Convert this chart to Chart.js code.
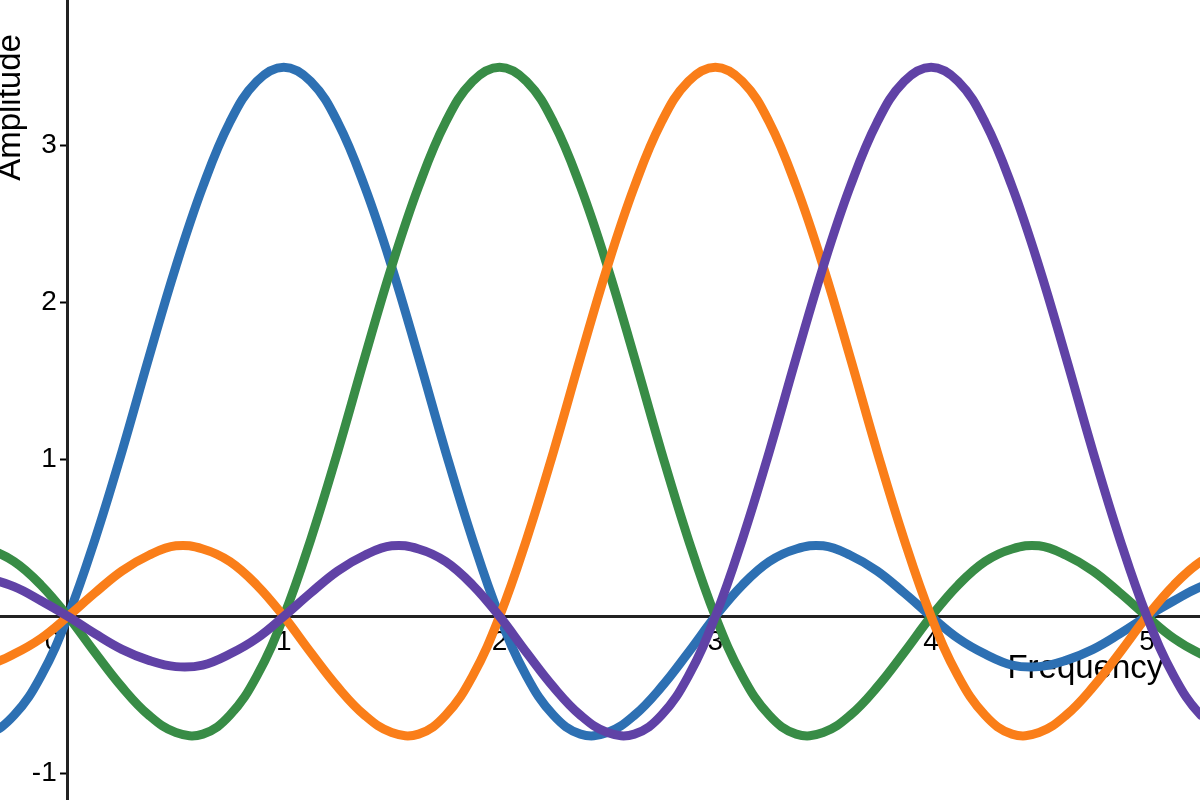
<!DOCTYPE html>
<html>
<head>
<meta charset="utf-8">
<script src="https://cdn.jsdelivr.net/npm/chart.js@4/dist/chart.umd.min.js"></script>
<style>
  html, body { margin: 0; padding: 0; background: #fff; }
  canvas { display: block; }
</style>
</head>
<body>
<canvas id="chart" width="1200" height="800"></canvas>
<script>
/* ---------- data ---------- */
const xValues = [-0.5,-0.375,-0.25,-0.125,0,0.125,0.25,0.375,0.5,0.625,0.75,0.875,1,1.125,1.25,1.375,1.5,1.625,1.75,1.875,2,2.125,2.25,2.375,2.5,2.625,2.75,2.875,3,3.125,3.25,3.375,3.5,3.625,3.75,3.875,4,4.125,4.25,4.375,4.5,4.625,4.75,4.875,5,5.125,5.25,5.375,5.5];

const blueY   = [-0.74,-0.75,-0.63,-0.38,0,0.49,1.05,1.65,2.23,2.74,3.15,3.41,3.5,3.41,3.15,2.74,2.23,1.65,1.05,0.49,0,-0.38,-0.63,-0.75,-0.74,-0.63,-0.45,-0.23,0,0.2,0.35,0.43,0.45,0.39,0.29,0.15,0,-0.14,-0.24,-0.31,-0.32,-0.28,-0.21,-0.11,0,0.1,0.19,0.24,0.25];
const greenY  = [0.45,0.43,0.35,0.2,0,-0.23,-0.45,-0.63,-0.74,-0.75,-0.63,-0.38,0,0.49,1.05,1.65,2.23,2.74,3.15,3.41,3.5,3.41,3.15,2.74,2.23,1.65,1.05,0.49,0,-0.38,-0.63,-0.75,-0.74,-0.63,-0.45,-0.23,0,0.2,0.35,0.43,0.45,0.39,0.29,0.15,0,-0.14,-0.24,-0.31,-0.32];
const orangeY = [-0.32,-0.31,-0.24,-0.14,0,0.15,0.29,0.39,0.45,0.43,0.35,0.2,0,-0.23,-0.45,-0.63,-0.74,-0.75,-0.63,-0.38,0,0.49,1.05,1.65,2.23,2.74,3.15,3.41,3.5,3.41,3.15,2.74,2.23,1.65,1.05,0.49,0,-0.38,-0.63,-0.75,-0.74,-0.63,-0.45,-0.23,0,0.2,0.35,0.43,0.45];
const purpleY = [0.25,0.24,0.19,0.1,0,-0.11,-0.21,-0.28,-0.32,-0.31,-0.24,-0.14,0,0.15,0.29,0.39,0.45,0.43,0.35,0.2,0,-0.23,-0.45,-0.63,-0.74,-0.75,-0.63,-0.38,0,0.49,1.05,1.65,2.23,2.74,3.15,3.41,3.5,3.41,3.15,2.74,2.23,1.65,1.05,0.49,0,-0.38,-0.63,-0.75,-0.74];

const xTicks = [0, 1, 2, 3, 4, 5];
const yTicks = [-1, 1, 2, 3];

/* ---------- helpers ---------- */
const FONT = '"Liberation Sans", Arial, sans-serif';
const pts = ys => xValues.map((x, i) => ({ x, y: ys[i] }));
const line = (ys, color, order) => ({
  data: pts(ys), borderColor: color, borderWidth: 9,
  pointRadius: 0, tension: 0.4, fill: false, order,
  borderCapStyle: 'round', borderJoinStyle: 'round'
});
// centred axes: keep the layout from padding the chart area for edge labels
const noPadX = s => { s.paddingLeft = 0; s.paddingRight = 0; };
const noPadY = s => { s.paddingTop = 0; s.paddingBottom = 0; };

new Chart(document.getElementById('chart'), {
  type: 'line',
  data: {
    datasets: [
      line(blueY,   '#2d70b3', 3),
      line(greenY,  '#388c46', 2),
      line(orangeY, '#fa7e19', 1),
      line(purpleY, '#6042a6', 0)
    ]
  },
  options: {
    responsive: false,
    animation: false,
    events: [],
    layout: { padding: { left: -6, top: 0, right: 0, bottom: 0 } },
    plugins: {
      legend: { display: false },
      tooltip: { enabled: false },
      title: {
        display: true, text: 'Amplitude   \u2009', position: 'left', align: 'end',
        color: '#000', padding: { top: 0, bottom: -27 },
        font: { family: FONT, size: 33, weight: 'normal', lineHeight: 1 }
      }
    },
    scales: {
      x: {
        type: 'linear', min: -0.315, max: 5.246,
        position: { y: 0 },
        afterBuildTicks: s => { s.ticks = xTicks.map(v => ({ value: v })); },
        afterFit: noPadX,
        grid: { display: true, drawOnChartArea: false, drawTicks: true, tickLength: 6, tickColor: '#000', tickWidth: 2 },
        border: { display: true, color: '#222', width: 3 },
        ticks: {
          color: '#000', padding: 3, maxRotation: 0, autoSkip: false,
          font: { family: FONT, size: 28 },
          callback: v => v === 0 ? '0    ' : String(v)
        },
        title: {
          display: true, text: 'Frequency    ', align: 'end', color: '#000',
          padding: { top: -13, bottom: 4 },
          font: { family: FONT, size: 33, lineHeight: 1.2 }
        }
      },
      y: {
        type: 'linear', min: -1.17, max: 3.929,
        position: { x: 0 },
        afterBuildTicks: s => { s.ticks = yTicks.map(v => ({ value: v })); },
        afterFit: noPadY,
        grid: { display: true, drawOnChartArea: false, drawTicks: true, tickLength: 6, tickColor: '#000', tickWidth: 2 },
        border: { display: true, color: '#222', width: 3 },
        ticks: {
          color: '#000', autoSkip: false,
          font: { family: FONT, size: 28 },
          callback: v => String(v) + '\u2009\u2009'
        }
      }
    }
  }
});
</script>
</body>
</html>
